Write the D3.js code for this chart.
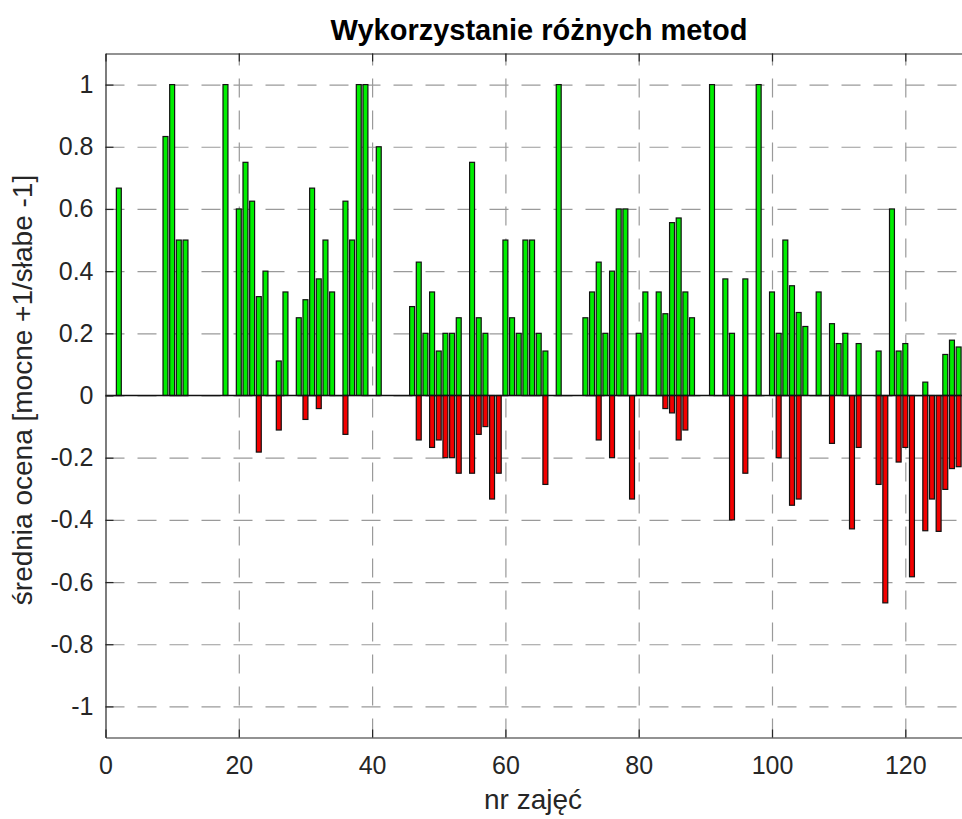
<!DOCTYPE html>
<html>
<head>
<meta charset="utf-8">
<script src="https://cdn.jsdelivr.net/npm/d3@7"></script>
<style>
  body { margin: 0; background: #fff; overflow: hidden; }
  text { font-family: "Liberation Sans", Arial, Helvetica, sans-serif; fill: #262626; }
</style>
</head>
<body>
<script>
var width = 962, height = 819

// nr zajęć 1..128
var zajecia = d3.range(1, 129)
// srednia ocena dla mocnych stron (+)
var mocne = [
  0, 0.667, 0, 0, 0, 0, 0, 0, 0.833, 1,
  0.5, 0.5, 0, 0, 0, 0, 0, 1, 0, 0.6,
  0.75, 0.625, 0.318, 0.4, 0, 0.111, 0.333, 0, 0.25, 0.308,
  0.667, 0.375, 0.5, 0.333, 0, 0.625, 0.5, 1, 1, 0,
  0.8, 0, 0, 0, 0, 0.286, 0.429, 0.2, 0.333, 0.143,
  0.2, 0.2, 0.25, 0, 0.75, 0.25, 0.2, 0, 0, 0.5,
  0.25, 0.2, 0.5, 0.5, 0.2, 0.143, 0, 1, 0, 0,
  0, 0.25, 0.333, 0.429, 0.2, 0.4, 0.6, 0.6, 0, 0.2,
  0.333, 0, 0.333, 0.263, 0.556, 0.571, 0.333, 0.25, 0, 0,
  1, 0, 0.375, 0.2, 0, 0.375, 0, 1, 0, 0.333,
  0.2, 0.5, 0.353, 0.267, 0.222, 0, 0.333, 0, 0.231, 0.167,
  0.2, 0, 0.167, 0, 0, 0.143, 0, 0.6, 0.143, 0.167,
  0, 0, 0.043, 0, 0, 0.132, 0.178, 0.156
]
// srednia ocena dla slabych stron (-)
var slabe = [
  0, 0, 0, 0, 0, 0, 0, 0, 0, 0,
  0, 0, 0, 0, 0, 0, 0, 0, 0, 0,
  0, 0, -0.182, 0, 0, -0.111, 0, 0, 0, -0.077,
  0, -0.042, 0, 0, 0, -0.125, 0, 0, 0, 0,
  0, 0, 0, 0, 0, 0, -0.143, 0, -0.167, -0.143,
  -0.2, -0.2, -0.25, 0, -0.25, -0.125, -0.1, -0.333, -0.25, 0,
  0, 0, 0, 0, 0, -0.286, 0, 0, 0, 0,
  0, 0, 0, -0.143, 0, -0.2, 0, 0, -0.333, 0,
  0, 0, 0, -0.042, -0.056, -0.143, -0.111, 0, 0, 0,
  0, 0, 0, -0.4, 0, -0.25, 0, 0, 0, 0,
  -0.2, 0, -0.353, -0.333, 0, 0, 0, 0, -0.154, 0,
  0, -0.429, -0.167, 0, 0, -0.286, -0.667, 0, -0.214, -0.167,
  -0.583, 0, -0.435, -0.333, -0.437, -0.302, -0.235, -0.229
]
var xTicks = [0, 20, 40, 60, 80, 100, 120]
var yTicks = [-1, -0.8, -0.6, -0.4, -0.2, 0, 0.2, 0.4, 0.6, 0.8, 1]

var mLeft = 105.5, mTop = 53.5, mBottom = 737.5, mRight = 105.5 + 130 * 6.665

var svg = d3.select("body").append("svg")
    .attr("width", width).attr("height", height)

var xScale = d3.scaleLinear().domain([0, 130]).range([mLeft, mRight])
var yScale = d3.scaleLinear().domain([-1.1, 1.1]).range([mBottom, mTop])
var unit = xScale(1) - xScale(0)
var bw = unit * 0.8 - 0.4

// grid
var yGrid = d3.axisLeft(yScale).tickValues(yTicks).tickFormat('')
    .tickSizeInner(-(mRight - mLeft)).tickSizeOuter(0)
var xGrid = d3.axisBottom(xScale).tickValues(xTicks.slice(1)).tickFormat('')
    .tickSizeInner(-(mBottom - mTop)).tickSizeOuter(0)
svg.append('g').attr('class', 'y-grid')
    .attr('transform', 'translate(' + mLeft + ',0)').call(yGrid)
svg.append('g').attr('class', 'x-grid')
    .attr('transform', 'translate(0,' + mBottom + ')').call(xGrid)
svg.selectAll('.y-grid .domain, .x-grid .domain').remove()
svg.selectAll('.y-grid line, .x-grid line')
    .attr('stroke', '#9a9a9a').attr('stroke-width', 1.2)
    .attr('stroke-dasharray', '19,13')

// bars
var bars = svg.append('g')
bars.selectAll('rect.mocne').data(zajecia).enter().append('rect')
    .attr('class', 'mocne')
    .attr('x', d => xScale(d) - bw / 2)
    .attr('y', (d, i) => yScale(mocne[i]))
    .attr('width', bw)
    .attr('height', (d, i) => yScale(0) - yScale(mocne[i]))
    .attr('fill', '#00ee00').attr('stroke', '#111').attr('stroke-width', 1.2)
bars.selectAll('rect.slabe').data(zajecia).enter().append('rect')
    .attr('class', 'slabe')
    .attr('x', d => xScale(d) - bw / 2)
    .attr('y', yScale(0))
    .attr('width', bw)
    .attr('height', (d, i) => yScale(slabe[i]) - yScale(0))
    .attr('fill', '#f20000').attr('stroke', '#111').attr('stroke-width', 1.2)

// baseline
svg.append('line')
    .attr('x1', mLeft).attr('x2', mRight)
    .attr('y1', yScale(0)).attr('y2', yScale(0))
    .attr('stroke', '#111').attr('stroke-width', 1.5)

// axes (ticks inside, like matlab)
var yAxis = d3.axisLeft(yScale).tickValues(yTicks)
    .tickFormat(d => String(+d.toFixed(1)))
    .tickSizeInner(-8).tickSizeOuter(0).tickPadding(12)
var xAxis = d3.axisBottom(xScale).tickValues(xTicks)
    .tickSizeInner(-8).tickSizeOuter(0).tickPadding(19)
var xTop = d3.axisTop(xScale).tickValues(xTicks).tickFormat('')
    .tickSizeInner(-8).tickSizeOuter(0)

var gy = svg.append('g').attr('transform', 'translate(' + mLeft + ',0)').call(yAxis)
var gx = svg.append('g').attr('transform', 'translate(0,' + mBottom + ')').call(xAxis)
var gt = svg.append('g').attr('transform', 'translate(0,' + mTop + ')').call(xTop)
svg.selectAll('.domain').attr('stroke', '#262626').attr('stroke-width', 1.2)
gy.selectAll('line').attr('stroke', '#262626').attr('stroke-width', 1.2)
gx.selectAll('line').attr('stroke', '#262626').attr('stroke-width', 1.2)
gt.selectAll('line').attr('stroke', '#262626').attr('stroke-width', 1.2)
gy.selectAll('text').style('font-size', '25px').style('font-family', '"Liberation Sans", Arial, sans-serif').attr('fill', '#262626')
gx.selectAll('text').style('font-size', '25px').style('font-family', '"Liberation Sans", Arial, sans-serif').attr('fill', '#262626')

// right spine (clipped by window)
svg.append('line').attr('x1', mRight).attr('x2', mRight).attr('y1', mTop).attr('y2', mBottom)
    .attr('stroke', '#262626').attr('stroke-width', 1.2)

// labels
svg.append('text')
    .attr('x', 539).attr('y', 40)
    .attr('text-anchor', 'middle')
    .style('font-size', '29px').style('font-weight', 'bold').style('fill', '#000')
    .text('Wykorzystanie różnych metod')
svg.append('text')
    .attr('x', 533).attr('y', 809)
    .attr('text-anchor', 'middle')
    .style('font-size', '28px')
    .text('nr zajęć')
svg.append('text')
    .attr('transform', 'translate(32,' + 390 + ') rotate(-90)')
    .attr('text-anchor', 'middle')
    .style('font-size', '28px')
    .text('średnia ocena [mocne +1/słabe -1]')
</script>
</body>
</html>
